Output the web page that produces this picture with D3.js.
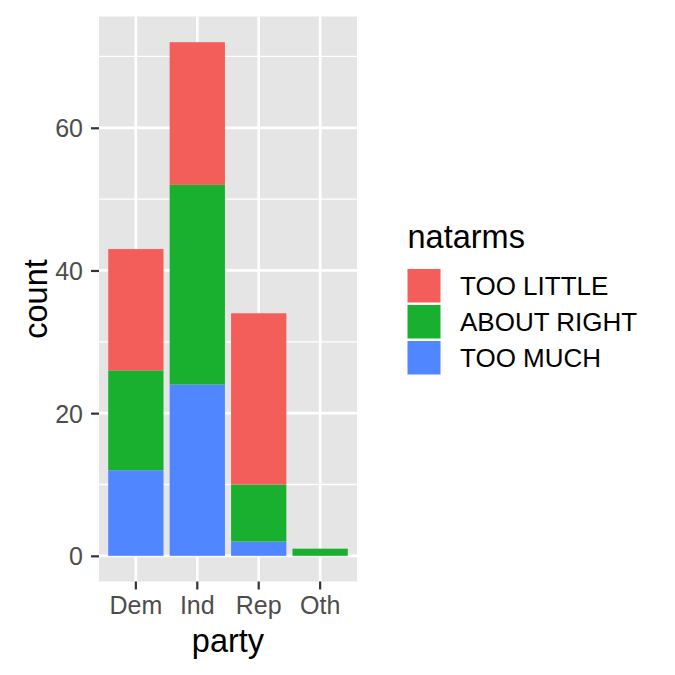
<!DOCTYPE html>
<html>
<head>
<meta charset="utf-8">
<script src="https://cdn.jsdelivr.net/npm/d3@7"></script>
<style>
  body { margin: 0; background: #fff; }
  svg { font-family: "Liberation Sans", Arial, sans-serif; }
</style>
</head>
<body>
<div id="chart"></div>
<script>
// data
const parties = ["Dem", "Ind", "Rep", "Oth"];
const levels = ["TOO LITTLE", "ABOUT RIGHT", "TOO MUCH"];
const tooLittle = [17, 20, 24, 0];
const aboutRight = [14, 28, 8, 1];
const tooMuch = [12, 24, 2, 0];
const yTicks = [0, 20, 40, 60];
const yMinor = [10, 30, 50, 70];
const levelColors = ["#F35E5A", "#19B02F", "#5086FF"];

{
  const W = 675, H = 675;
  const panel = {left: 99, right: 357, top: 16.5, bottom: 581.5};

  const svg = d3.select("#chart")
    .append("svg")
      .attr("width", W)
      .attr("height", H);

  // rows for the stack
  const rows = parties.map((p, i) => ({
    party: p,
    "TOO LITTLE": tooLittle[i],
    "ABOUT RIGHT": aboutRight[i],
    "TOO MUCH": tooMuch[i]
  }));
  // ggplot stacks the last level at the bottom
  const stackKeys = levels.slice().reverse();
  const series = d3.stack().keys(stackKeys)(rows);
  const maxTotal = d3.max(series[series.length - 1], d => d[1]);

  const color = d3.scaleOrdinal().domain(levels).range(levelColors);

  const x = d3.scaleBand()
    .domain(parties)
    .range([panel.left, panel.right])
    .paddingInner(0.1)
    .paddingOuter(0.15);

  const pad = maxTotal * 0.05;
  const y = d3.scaleLinear()
    .domain([-pad, maxTotal + pad])
    .range([panel.bottom, panel.top]);

  // panel background
  svg.append("rect")
    .attr("x", panel.left)
    .attr("y", panel.top)
    .attr("width", panel.right - panel.left)
    .attr("height", panel.bottom - panel.top)
    .attr("fill", "#E5E5E5");

  // grid
  const grid = svg.append("g");
  yMinor.forEach(v => {
    grid.append("line")
      .attr("x1", panel.left).attr("x2", panel.right)
      .attr("y1", y(v)).attr("y2", y(v))
      .attr("stroke", "#fff").attr("stroke-width", 1.3);
  });
  yTicks.forEach(v => {
    grid.append("line")
      .attr("x1", panel.left).attr("x2", panel.right)
      .attr("y1", y(v)).attr("y2", y(v))
      .attr("stroke", "#fff").attr("stroke-width", 2.7);
  });
  parties.forEach(p => {
    const cx = x(p) + x.bandwidth() / 2;
    grid.append("line")
      .attr("x1", cx).attr("x2", cx)
      .attr("y1", panel.top).attr("y2", panel.bottom)
      .attr("stroke", "#fff").attr("stroke-width", 2.7);
  });

  // bars
  series.forEach(s => {
    svg.append("g")
      .attr("fill", color(s.key))
      .selectAll("rect")
      .data(s)
      .join("rect")
        .attr("x", d => x(d.data.party))
        .attr("y", d => y(d[1]))
        .attr("width", x.bandwidth())
        .attr("height", d => y(d[0]) - y(d[1]));
  });

  // y axis
  const yAxis = svg.append("g")
    .attr("transform", "translate(" + panel.left + ",0)")
    .call(d3.axisLeft(y).tickValues(yTicks).tickSize(8).tickPadding(8));
  yAxis.select(".domain").remove();
  yAxis.selectAll("line").attr("stroke", "#333").attr("stroke-width", 2.2);
  yAxis.selectAll("text")
    .attr("fill", "#4D4D4D")
    .style("font-size", "25px")
    .attr("dy", "0.36em");

  // x axis
  const xAxis = svg.append("g")
    .attr("transform", "translate(0," + panel.bottom + ")")
    .call(d3.axisBottom(x).tickSize(8).tickPadding(7));
  xAxis.select(".domain").remove();
  xAxis.selectAll("line").attr("stroke", "#333").attr("stroke-width", 2.2);
  xAxis.selectAll("text")
    .attr("fill", "#4D4D4D")
    .style("font-size", "25px");

  // axis titles
  svg.append("text")
    .attr("x", (panel.left + panel.right) / 2)
    .attr("y", 652)
    .attr("text-anchor", "middle")
    .style("font-size", "32.5px")
    .text("party");

  svg.append("text")
    .attr("transform", "translate(46.5," + ((panel.top + panel.bottom) / 2) + ") rotate(-90)")
    .attr("text-anchor", "middle")
    .style("font-size", "32.5px")
    .text("count");

  // legend
  const legend = svg.append("g").attr("transform", "translate(407.5,0)");
  legend.append("text")
    .attr("x", 0)
    .attr("y", 248)
    .style("font-size", "32.5px")
    .text("natarms");

  levels.forEach((lv, i) => {
    const top = 269 + i * 36;
    legend.append("rect")
      .attr("x", 0)
      .attr("y", top)
      .attr("width", 33)
      .attr("height", 33.5)
      .attr("fill", color(lv));
    legend.append("text")
      .attr("x", 52.5)
      .attr("y", top + 17)
      .attr("dy", "0.36em")
      .style("font-size", "26px")
      .text(lv);
  });
}
</script>
</body>
</html>
